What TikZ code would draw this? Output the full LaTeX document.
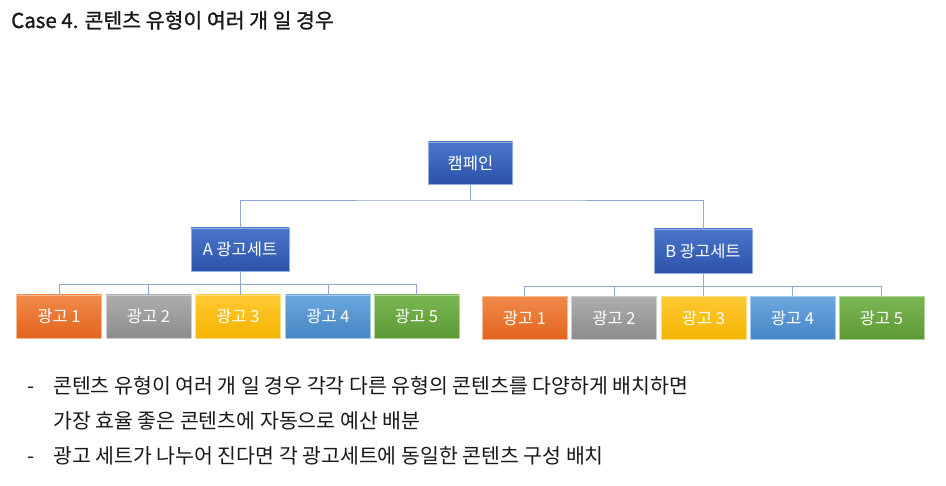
\documentclass[tikz,border=0pt]{standalone}
\usepackage{fontspec}
\setmainfont{Noto Sans CJK KR}
\newfontfamily\kfont{Noto Sans CJK KR}
\newfontfamily\ktitle[FakeBold=1.1]{Noto Sans CJK KR}
\definecolor{lnc}{HTML}{8FA6D2}
\definecolor{dbT}{HTML}{4A76CB}\definecolor{dbB}{HTML}{2C52A8}
\definecolor{orT}{HTML}{F18A4A}\definecolor{orB}{HTML}{E2641C}
\definecolor{grT}{HTML}{ADADAD}\definecolor{grB}{HTML}{8C8C8C}
\definecolor{yeT}{HTML}{FFC934}\definecolor{yeB}{HTML}{F4B400}
\definecolor{blT}{HTML}{6CA7DE}\definecolor{blB}{HTML}{4686C6}
\definecolor{gnT}{HTML}{7BB753}\definecolor{gnB}{HTML}{5C9A36}
\tikzset{
  boxbase/.style={rectangle, inner sep=0pt, text=white, font=\kfont\fontsize{16.5}{16.5}\selectfont, line width=0.6pt},
  darkbox/.style={boxbase, top color=dbT, bottom color=dbB, draw=dbT!60!white, minimum height=43pt},
  adbox/.style={boxbase, minimum width=85pt, minimum height=43pt},
  ador/.style={adbox, top color=orT, bottom color=orB, draw=orT!60!white},
  adgr/.style={adbox, top color=grT, bottom color=grB, draw=grT!60!white},
  adye/.style={adbox, top color=yeT, bottom color=yeB, draw=yeT!60!white},
  adbl/.style={adbox, top color=blT, bottom color=blB, draw=blT!60!white},
  adgn/.style={adbox, top color=gnT, bottom color=gnB, draw=gnT!60!white},
  conn/.style={draw=lnc, line width=0.9pt},
  bodytext/.style={anchor=base west, inner sep=0pt, font=\kfont\fontsize{20.5}{20.5}\selectfont, text=black!90},
}
\begin{document}
\begin{tikzpicture}[x=1pt,y=-1pt]
\useasboundingbox[fill=white] (0,0) rectangle (946,486);
% title
\node[bodytext, font=\ktitle\fontsize{20.5}{20.5}\selectfont] (title) at (11,28) {Case 4. 콘텐츠 유형이 여러 개 일 경우};
% campaign
\node[darkbox, minimum width=84pt, minimum height=42pt] (camp) at (470.5,163) {캠페인};
\node[darkbox, minimum width=98pt] (seta) at (240,249.5) {A 광고세트};
\node[darkbox, minimum width=98pt, minimum height=44pt] (setb) at (703,251) {B 광고세트};
% left ads
\node[ador] (a1) at (59,316.5) {광고 1};
\node[adgr] (a2) at (148.5,316.5) {광고 2};
\node[adye] (a3) at (238,316.5) {광고 3};
\node[adbl] (a4) at (328,316.5) {광고 4};
\node[adgn] (a5) at (416.5,316.5) {광고 5};
% right ads
\node[ador] (b1) at (524.5,318) {광고 1};
\node[adgr] (b2) at (614,318) {광고 2};
\node[adye] (b3) at (703.5,318) {광고 3};
\node[adbl] (b4) at (792.5,318) {광고 4};
\node[adgn] (b5) at (881.5,318) {광고 5};
% connectors
\coordinate (j0) at (470.5,200);
\coordinate (ja) at (240,284);
\coordinate (jb) at (703,286);
\draw[conn] (camp.south) -- (j0);
\draw[conn] (seta.north) |- (j0) -| (setb.north);
\draw[conn] (seta.south) -- (ja);
\draw[conn] (setb.south) -- (jb);
\foreach \n in {a1,a2,a4,a5} {\draw[conn] (\n.north) |- (ja);}
\draw[conn] (ja) -- (a3.north -| ja);
\foreach \n in {b1,b2,b3,b4,b5} {\draw[conn] (\n.north) |- (jb);}
% bullets
\node[bodytext] (d1) at (27,394) {-};
\node[bodytext] (l1) at (53,394) {콘텐츠 유형이 여러 개 일 경우 각각 다른 유형의 콘텐츠를 다양하게 배치하면};
\node[bodytext] (l2) at (53,429) {가장 효율 좋은 콘텐츠에 자동으로 예산 배분};
\node[bodytext] (d2) at (27,464) {-};
\node[bodytext] (l3) at (53,464) {광고 세트가 나누어 진다면 각 광고세트에 동일한 콘텐츠 구성 배치};
\end{tikzpicture}
\end{document}
